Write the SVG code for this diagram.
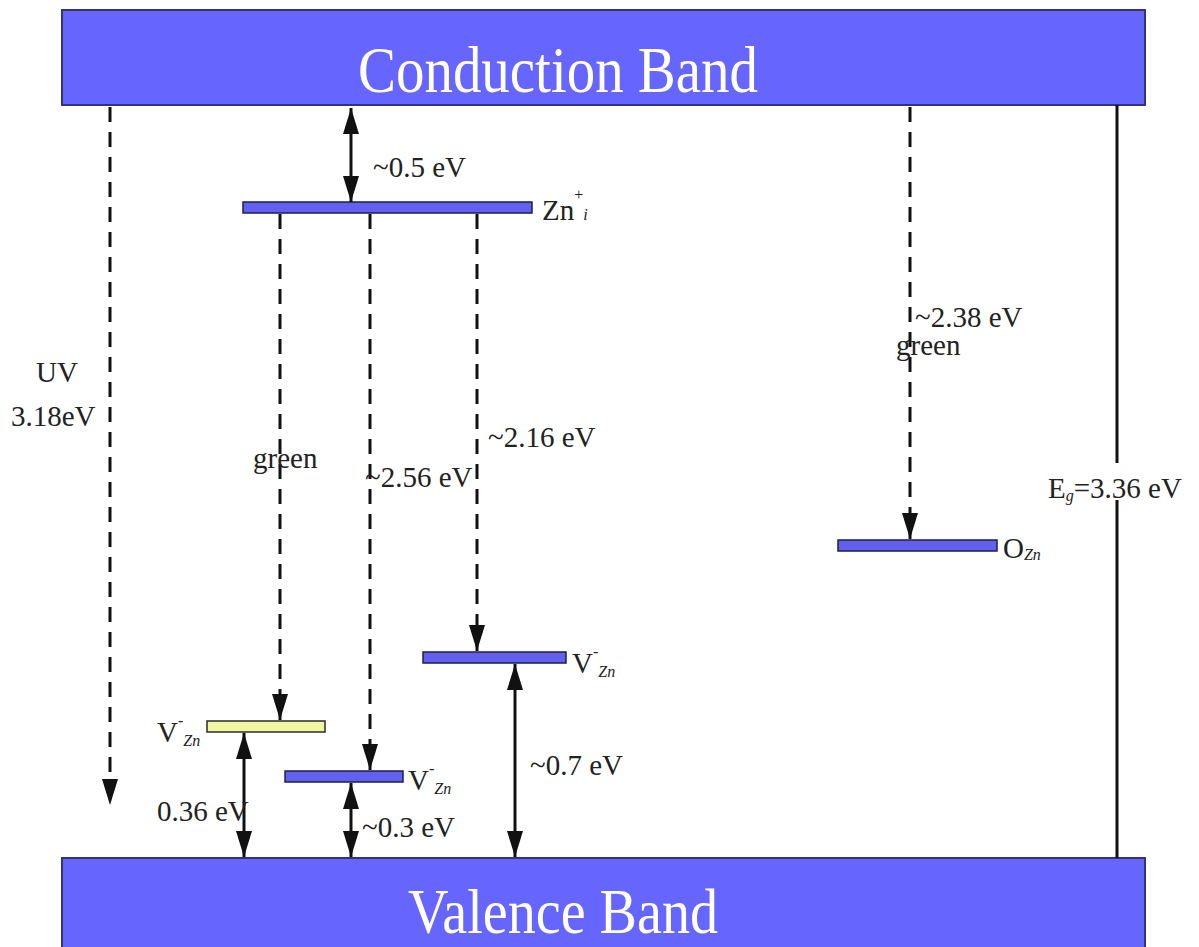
<svg xmlns="http://www.w3.org/2000/svg" width="1199" height="947" viewBox="0 0 1199 947">
<style>
.band{fill:#6666FF;stroke:#33337a;stroke-width:2}
.bandtxt{font-family:"Liberation Serif",serif;font-size:66px;fill:#ffffff}
.lvl{fill:#6161ee;stroke:#1e1e50;stroke-width:1.5}
.lvly{fill:#eef7a0;stroke:#2a2a2a;stroke-width:1.5}
.t{font-family:"Liberation Serif",serif;font-size:29px;fill:#222}
.sub{font-size:16px;font-style:italic}
.sup{font-size:16px}
.dash{stroke:#111;stroke-width:3;stroke-dasharray:15 10;fill:none}
.solid{stroke:#111;stroke-width:3;fill:none}
</style>
<defs>
<marker id="ah" markerUnits="userSpaceOnUse" markerWidth="28" markerHeight="18" refX="26" refY="8" orient="auto-start-reverse">
<path d="M0,0 L26,8 L0,16 z" fill="#111"/>
</marker>
</defs>
<rect width="1199" height="947" fill="#ffffff"/>
<g id="conduction-band">
<rect class="band" x="62" y="10" width="1083" height="95"/>
<text class="bandtxt" x="358" y="92" textLength="400" lengthAdjust="spacingAndGlyphs">Conduction Band</text>
</g>
<g id="valence-band">
<rect class="band" x="62" y="858" width="1083" height="100"/>
<text class="bandtxt" x="408" y="933" style="font-size:64px" textLength="310" lengthAdjust="spacingAndGlyphs">Valence Band</text>
</g>
<g id="zn-level">
<rect class="lvl" x="243" y="202" width="289" height="11"/>
<text class="t" x="542" y="220">Zn<tspan class="sup" dy="-20">+</tspan><tspan class="sub" dy="20">i</tspan></text>
</g>
<g id="vzn-yellow">
<rect class="lvly" x="207" y="721" width="118" height="11"/>
<text class="t" x="157" y="742">V<tspan class="sup" dy="-16">-</tspan><tspan class="sub" dy="20">Zn</tspan></text>
</g>
<g id="vzn-low">
<rect class="lvl" x="285" y="771" width="118" height="11"/>
<text class="t" x="408" y="790">V<tspan class="sup" dy="-16">-</tspan><tspan class="sub" dy="20">Zn</tspan></text>
</g>
<g id="vzn-high">
<rect class="lvl" x="423" y="652" width="143" height="11"/>
<text class="t" x="572" y="673">V<tspan class="sup" dy="-16">-</tspan><tspan class="sub" dy="20">Zn</tspan></text>
</g>
<g id="ozn-level">
<rect class="lvl" x="838" y="540" width="159" height="11"/>
<text class="t" x="1003" y="558">O<tspan class="sub" dy="2">Zn</tspan></text>
</g>
<g id="connectors">
<line class="dash" x1="110" y1="107" x2="110" y2="805" marker-end="url(#ah)"/>
<line class="solid" x1="351" y1="108" x2="351" y2="202" marker-start="url(#ah)" marker-end="url(#ah)"/>
<line class="dash" x1="280" y1="214" x2="280" y2="720" marker-end="url(#ah)"/>
<line class="dash" x1="370" y1="214" x2="370" y2="770" marker-end="url(#ah)"/>
<line class="dash" x1="477" y1="214" x2="477" y2="651" marker-end="url(#ah)"/>
<line class="dash" x1="910" y1="107" x2="910" y2="539" marker-end="url(#ah)"/>
<line class="solid" x1="244" y1="733" x2="244" y2="857" marker-start="url(#ah)" marker-end="url(#ah)"/>
<line class="solid" x1="351" y1="783" x2="351" y2="857" marker-start="url(#ah)" marker-end="url(#ah)"/>
<line class="solid" x1="515" y1="664" x2="515" y2="857" marker-start="url(#ah)" marker-end="url(#ah)"/>
<line class="solid" x1="1117" y1="105" x2="1117" y2="463"/>
<line class="solid" x1="1117" y1="500" x2="1117" y2="858"/>
</g>
<g id="labels">
<text class="t" x="373" y="177">~0.5 eV</text>
<text class="t" x="36" y="382">UV</text>
<text class="t" x="11" y="426">3.18eV</text>
<text class="t" x="253" y="468">green</text>
<text class="t" x="365" y="487">~2.56 eV</text>
<text class="t" x="488" y="447">~2.16 eV</text>
<text class="t" x="915" y="327">~2.38 eV</text>
<text class="t" x="896" y="355">green</text>
<text class="t" x="1048" y="498">E<tspan class="sub" dy="3">g</tspan><tspan dy="-3">=3.36 eV</tspan></text>
<text class="t" x="157" y="821">0.36 eV</text>
<text class="t" x="362" y="837">~0.3 eV</text>
<text class="t" x="530" y="775">~0.7 eV</text>
</g>
</svg>
